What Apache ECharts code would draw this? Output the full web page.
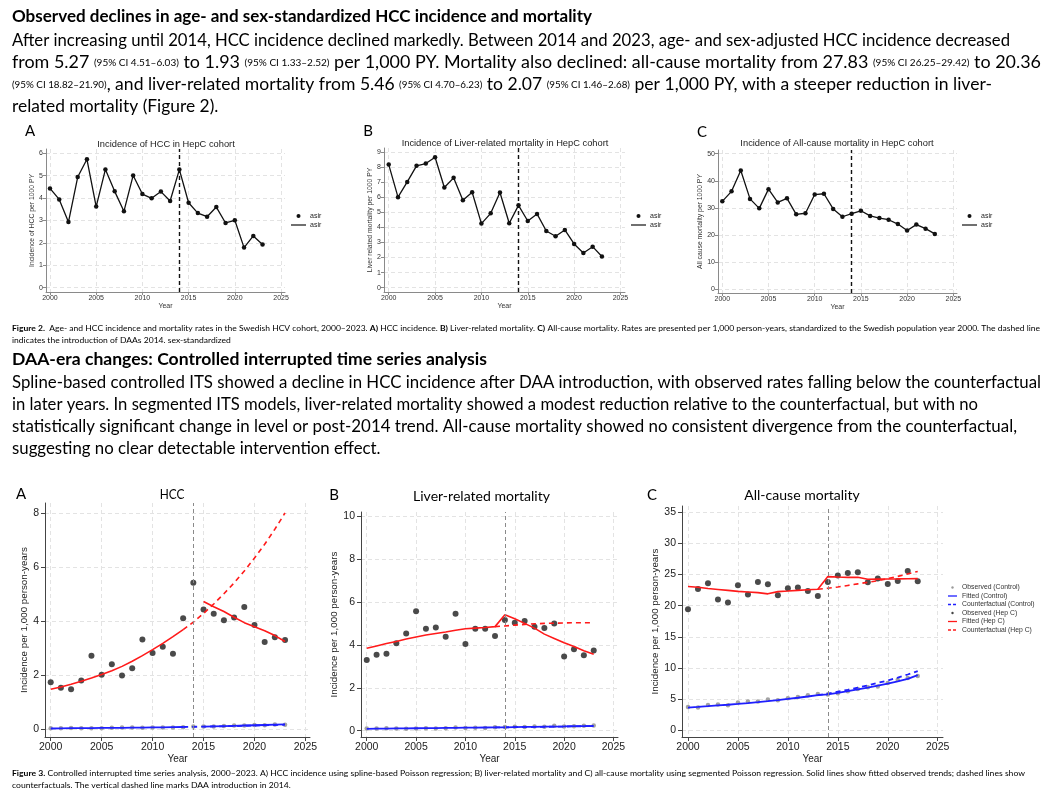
<!DOCTYPE html>
<html><head><meta charset="utf-8">
<script src="https://cdn.jsdelivr.net/npm/echarts@6/dist/echarts.min.js"></script>
<style>html,body{margin:0;padding:0;background:#fff;}#c{width:1048px;height:808px;}</style>
</head><body><div id="c"></div>
<script>
// ---------- data ----------
const years = [2000,2001,2002,2003,2004,2005,2006,2007,2008,2009,2010,2011,2012,2013,2014,2015,2016,2017,2018,2019,2020,2021,2022,2023];
const xTickYears = [2000,2005,2010,2015,2020,2025];
const interventionYear = 2014;

// Figure 2 (age- and sex-standardized rates, per 1000 PY)
const hccAsir      = [4.43,3.94,2.93,4.94,5.73,3.62,5.28,4.30,3.41,5.01,4.18,3.99,4.29,3.87,5.27,3.79,3.33,3.17,3.60,2.89,3.01,1.79,2.31,1.93];
const liverAsir    = [8.16,6.00,7.01,8.08,8.23,8.65,6.64,7.28,5.80,6.33,4.25,4.93,6.31,4.27,5.46,4.42,4.89,3.76,3.41,3.83,2.90,2.30,2.72,2.07];
const allCauseAsir = [32.4,36.1,43.8,33.3,29.8,36.9,32.0,33.5,27.6,28.0,34.9,35.2,29.6,26.7,27.83,28.9,27.0,26.2,25.6,24.0,21.6,23.8,22.3,20.36];
const yTicksTopA = [0,1,2,3,4,5,6];
const yTicksTopB = [0,1,2,3,4,5,6,7,8,9];
const yTicksTopC = [0,10,20,30,40,50];

// Figure 3 A: HCC
const hccObsHepC  = [1.74,1.54,1.48,1.81,2.72,2.02,2.41,1.99,2.26,3.33,2.83,3.06,2.80,4.11,5.43,4.44,4.28,4.04,4.14,4.53,3.86,3.23,3.41,3.31];
const hccFitHepC  = [1.48,1.57,1.67,1.78,1.90,2.03,2.17,2.33,2.52,2.73,2.95,3.18,3.43,3.69,null,4.73,4.54,4.36,4.15,3.95,3.80,3.65,3.47,3.25];
const hccCfHepC   = [null,null,null,null,null,null,null,null,null,null,null,null,null,3.69,3.97,4.29,4.64,5.02,5.42,5.86,6.34,6.85,7.41,8.01];
const hccObsCtrl  = [0.04,0.04,0.05,0.04,0.04,0.04,0.06,0.07,0.07,0.06,0.07,0.07,0.07,0.08,0.10,0.10,0.10,0.12,0.14,0.14,0.16,0.15,0.18,0.17];
const hccFitCtrl  = [0.03,0.035,0.04,0.04,0.045,0.05,0.05,0.055,0.06,0.065,0.07,0.075,0.08,0.085,null,0.10,0.11,0.12,0.13,0.14,0.15,0.16,0.17,0.18];
const hccCfCtrl   = [null,null,null,null,null,null,null,null,null,null,null,null,null,0.085,0.09,0.10,0.105,0.11,0.12,0.13,0.14,0.15,0.16,0.17];
const yTicksBotA = [0,2,4,6,8];

// Figure 3 B: liver-related mortality
const livObsHepC  = [3.29,3.54,3.59,4.08,4.53,5.57,4.75,4.81,4.38,5.45,4.04,4.75,4.75,4.41,5.16,5.03,5.11,4.84,4.78,5.00,3.46,3.79,3.52,3.74];
const livFitHepC  = [3.84,3.95,4.06,4.16,4.27,4.37,4.46,4.53,4.60,4.68,4.75,4.78,4.81,4.85,5.40,5.22,5.00,4.78,4.50,4.30,4.10,3.92,3.73,3.56];
const livCfHepC   = [null,null,null,null,null,null,null,null,null,null,null,null,null,4.85,4.88,4.92,4.95,4.98,5.00,5.01,5.02,5.03,5.03,5.03];
const livObsCtrl  = [0.10,0.10,0.11,0.10,0.09,0.10,0.12,0.10,0.12,0.15,0.13,0.14,0.13,0.16,0.17,0.19,0.17,0.20,0.18,0.23,0.20,0.21,0.23,0.24];
const livFitCtrl  = [0.09,0.095,0.10,0.105,0.11,0.115,0.12,0.125,0.13,0.135,0.14,0.145,0.15,0.155,0.16,0.17,0.175,0.18,0.19,0.195,0.20,0.21,0.215,0.22];
const livCfCtrl   = [null,null,null,null,null,null,null,null,null,null,null,null,null,0.155,0.16,0.165,0.17,0.175,0.18,0.19,0.195,0.20,0.21,0.215];
const yTicksBotB = [0,2,4,6,8,10];

// Figure 3 C: all-cause mortality
const acObsHepC   = [19.43,22.69,23.60,20.98,20.50,23.28,21.78,23.81,23.44,21.67,22.80,22.90,22.37,21.57,23.81,24.83,25.26,25.37,23.76,24.35,23.49,23.98,25.58,23.92];
const acFitHepC   = [23.07,22.95,22.75,22.60,22.45,22.30,22.20,22.10,21.90,22.26,22.35,22.45,22.55,22.64,24.67,24.60,24.55,24.56,24.24,24.26,24.28,24.30,24.33,24.35];
const acCfHepC    = [null,null,null,null,null,null,null,null,null,null,null,null,null,22.64,22.80,23.00,23.25,23.50,23.75,24.00,24.35,24.70,25.10,25.50];
const acObsCtrl   = [3.75,3.64,4.07,4.12,4.01,4.44,4.60,4.60,4.92,4.82,5.14,5.35,5.62,5.83,5.73,5.94,6.26,6.64,6.90,7.01,7.60,8.10,8.40,8.72];
const acFitCtrl   = [3.65,3.75,3.86,3.98,4.10,4.23,4.37,4.52,4.68,4.85,5.03,5.22,5.42,5.63,5.75,6.00,6.27,6.55,6.85,7.17,7.50,7.85,8.25,8.85];
const acCfCtrl    = [null,null,null,null,null,null,null,null,null,null,null,null,null,5.63,5.90,6.20,6.50,6.85,7.20,7.60,8.00,8.45,8.95,9.50];
const yTicksBotC = [0,5,10,15,20,25,30,35];

// ---------- text ----------
const para1Title = "Observed declines in age- and sex-standardized HCC incidence and mortality";
const para1Lines = [
  "After increasing until 2014, HCC incidence declined markedly. Between 2014 and 2023, age- and sex-adjusted HCC incidence decreased",
  "from 5.27 {ci|(95% CI 4.51–6.03)} to 1.93 {ci|(95% CI 1.33–2.52)} per 1,000 PY. Mortality also declined: all-cause mortality from 27.83 {ci|(95% CI 26.25–29.42)} to 20.36",
  "{ci|(95% CI 18.82–21.90)}, and liver-related mortality from 5.46 {ci|(95% CI 4.70–6.23)} to 2.07 {ci|(95% CI 1.46–2.68)} per 1,000 PY, with a steeper reduction in liver-",
  "related mortality (Figure 2)."
];
const para2Title = "DAA-era changes: Controlled interrupted time series analysis";
const para2Lines = [
  "Spline-based controlled ITS showed a decline in HCC incidence after DAA introduction, with observed rates falling below the counterfactual",
  "in later years. In segmented ITS models, liver-related mortality showed a modest reduction relative to the counterfactual, but with no",
  "statistically significant change in level or post-2014 trend. All-cause mortality showed no consistent divergence from the counterfactual,",
  "suggesting no clear detectable intervention effect."
];
const fig2Caption = [
  "{b|Figure 2.}  Age- and HCC incidence and mortality rates in the Swedish HCV cohort, 2000–2023. {b|A)} HCC incidence. {b|B)} Liver-related mortality. {b|C)} All-cause mortality. Rates are presented per 1,000 person-years, standardized to the Swedish population year 2000. The dashed line",
  "indicates the introduction of DAAs 2014. sex-standardized"
];
const fig3Caption = [
  "{b|Figure 3.} Controlled interrupted time series analysis, 2000–2023. A) HCC incidence using spline-based Poisson regression; B) liver-related mortality and C) all-cause mortality using segmented Poisson regression. Solid lines show fitted observed trends; dashed lines show",
  "counterfactuals. The vertical dashed line marks DAA introduction in 2014."
];

// ---------- helpers ----------
const FF = "'Liberation Sans', Arial, sans-serif";
const LF = "Lato, 'Open Sans', sans-serif";
const cv = document.createElement('canvas').getContext('2d');
function segs(str){
  const out=[]; const re=/\{(\w+)\|([^}]*)\}/g; let last=0,m;
  while((m=re.exec(str))){ if(m.index>last) out.push([null,str.slice(last,m.index)]); out.push([m[1],m[2]]); last=re.lastIndex; }
  if(last<str.length) out.push([null,str.slice(last)]);
  return out;
}
function measure(str, base, rich){
  let w=0;
  for(const [k,t] of segs(str)){
    const s = k ? rich[k] : base;
    cv.font = (s.fontWeight||'normal')+' '+s.fontSize+'px '+s.fontFamily;
    w += cv.measureText(t).width;
  }
  return w;
}
const graphics = [];
function addText(str, x, y, base, rich, scale, align, color){
  graphics.push({
    type:'text', x:x, y:y, scaleX:scale||1, silent:true, z:100,
    style: Object.assign({
      text:str, fill:color||'#000', align:align||'left', verticalAlign:'middle',
      textAlign:align||'left', textVerticalAlign:'middle', rich:rich||{}
    }, base)
  });
}
function paragraph(title, lines, x, yTitle, yLines, titleEnd, lineEnds){
  const tb = {fontFamily:LF, fontSize:17, fontWeight:'bold'};
  addText(title, x, yTitle, tb, {}, (titleEnd-x)/measure(title,tb,{}));
  const base = {fontFamily:LF, fontSize:17, fontWeight:'normal'};
  const rich = {ci:{fontFamily:LF, fontSize:9.5, fontWeight:'normal', fill:'#000'}};
  const scales = lineEnds.map((e,i)=>(e-x)/measure(lines[i],base,rich));
  const avg = scales.reduce((a,b)=>a+b,0)/scales.length;
  lines.forEach((l,i)=>addText(l, x, yLines[i], base, rich, i<scales.length?scales[i]:avg));
}
function caption(lines, x, ys, end){
  const base = {fontFamily:LF, fontSize:8, fontWeight:'normal'};
  const rich = {b:{fontFamily:LF, fontSize:8, fontWeight:'bold', fill:'#000'}};
  const s = (end-x)/measure(lines[0],base,rich);
  lines.forEach((l,i)=>addText(l, x, ys[i], base, rich, s));
}
function fitCenter(str, cx, cy, width, size){
  const b = {fontFamily:LF, fontSize:size, fontWeight:'normal'};
  addText(str, cx, cy, b, {}, width/measure(str,b,{}), 'center');
}

paragraph(para1Title, para1Lines, 12, 17, [41,63,85,106.5], 592, [1010,1041,992]);
paragraph(para2Title, para2Lines, 12, 360, [383,405,427,449], 487, [1041,978,1017]);
caption(fig2Caption, 12, [328,340], 1040);
caption(fig3Caption, 12, [773,785], 1025);

// panel letters
const letter = {fontFamily:LF, fontSize:15, fontWeight:'normal'};
[['A',30,131],['B',368,131],['C',702,132],['A',21,494],['B',334,495],['C',652,495]].forEach(a=>addText(a[0],a[1],a[2],letter,{},1,'center'));
// top panel titles
const tTitle = {fontFamily:FF, fontSize:9.3, fontWeight:'normal'};
addText('Incidence of HCC in HepC cohort', 166, 144, tTitle, {}, 1, 'center', '#222');
addText('Incidence of Liver-related mortality in HepC cohort', 505, 143, tTitle, {}, 1, 'center', '#222');
addText('Incidence of All-cause mortality in HepC cohort', 837, 143.5, tTitle, {}, 1, 'center', '#222');
// bottom panel titles
fitCenter('HCC', 172, 494, 24.7, 14);
fitCenter('Liver-related mortality', 481.5, 496, 137, 14);
fitCenter('All-cause mortality', 802, 495, 115.5, 14);

// top legends (asir)
const legT = {fontFamily:FF, fontSize:7, fontWeight:'normal'};
[291, 631, 962].forEach(L=>{
  graphics.push({type:'circle', silent:true, shape:{cx:L+7.5, cy:216, r:2}, style:{fill:'#111'}});
  graphics.push({type:'line', silent:true, shape:{x1:L, y1:225, x2:L+15, y2:225}, style:{stroke:'#111', lineWidth:1.2}});
  addText('asir', L+19, 216, legT, {}, 1, 'left', '#222');
  addText('asir', L+19, 225.5, legT, {}, 1, 'left', '#222');
});
// bottom C legend
const legB = {fontFamily:FF, fontSize:6.8, fontWeight:'normal'};
const legItems = [
  ['Observed (Control)','dot','#9a9a9a',null],
  ['Fitted (Control)','line','#1f1fff',null],
  ['Counterfactual (Control)','line','#1f1fff',[3,2]],
  ['Observed (Hep C)','dot','#444',null],
  ['Fitted (Hep C)','line','#ff1a1a',null],
  ['Counterfactual (Hep C)','line','#ff1a1a',[3,2]]
];
legItems.forEach((it,i)=>{
  const y = 587.5 + i*8.5;
  if(it[1]==='dot') graphics.push({type:'circle', silent:true, shape:{cx:952.5, cy:y, r:1.2}, style:{fill:it[2]}});
  else graphics.push({type:'line', silent:true, shape:{x1:948, y1:y, x2:957, y2:y}, style:{stroke:it[2], lineWidth:1.3, lineDash:it[3]||null}});
  addText(it[0], 962, y, legB, {}, 1, 'left', '#333');
});

// ---------- axes ----------
const GRIDC = '#e3e3e3';
function xAx(gi, min, max, o){
  return {type:'value', gridIndex:gi, min:min, max:max,
    name:'Year', nameLocation:'middle', nameGap:o.nameGap,
    nameTextStyle:{fontSize:o.nameSize, color:o.color, fontFamily:FF},
    axisLine:{show:true, onZero:false, lineStyle:{color:o.axisColor, width:1}},
    axisTick:{show:true, length:o.tick, customValues:xTickYears, lineStyle:{color:o.axisColor}},
    axisLabel:{customValues:xTickYears, fontSize:o.labelSize, color:o.color, margin:o.margin, fontFamily:FF, formatter:v=>String(v)},
    splitLine:{show:true, lineStyle:{type:[4,3], color:GRIDC, width:1}}
  };
}
function yAx(gi, min, max, ticks, name, o){
  return {type:'value', gridIndex:gi, min:min, max:max,
    name:name, nameLocation:'middle', nameGap:o.nameGap,
    nameTextStyle:{fontSize:o.nameSize, color:o.color, fontFamily:FF},
    axisLine:{show:true, onZero:false, lineStyle:{color:o.axisColor, width:1}},
    axisTick:{show:true, length:o.tick, customValues:ticks, lineStyle:{color:o.axisColor}},
    axisLabel:{customValues:ticks, fontSize:o.labelSize, color:o.color, margin:o.margin, fontFamily:FF, formatter:v=>String(v)},
    splitLine:{show:true, lineStyle:{type:[4,3], color:GRIDC, width:1}}
  };
}
const topX = {nameGap:11, nameSize:7, color:'#333', axisColor:'#8a8a8a', tick:3, labelSize:7, margin:3};
const botX = {nameGap:16, nameSize:10, color:'#222', axisColor:'#444', tick:4, labelSize:10.5, margin:5};
function topY(gap){ return {nameGap:gap, nameSize:6.8, color:'#333', axisColor:'#8a8a8a', tick:3, labelSize:7, margin:3}; }
function botY(gap){ return {nameGap:gap, nameSize:9.8, color:'#222', axisColor:'#444', tick:4, labelSize:10.5, margin:6}; }

const grids = [
  {left:46, top:149, width:239, height:143},
  {left:384, top:148, width:241, height:144},
  {left:718, top:150, width:239, height:143},
  {left:45, top:503, width:265, height:234},
  {left:361, top:512, width:257, height:225},
  {left:682, top:506, width:261, height:231}
];
const xAxes = [
  xAx(0, 1999.57, 2025.43, topX),
  xAx(1, 1999.49, 2025.49, topX),
  xAx(2, 1999.535, 2025.4, topX),
  xAx(3, 1999.44, 2025.45, botX),
  xAx(4, 1999.42, 2025.46, botX),
  xAx(5, 1999.40, 2025.53, botX)
];
const yAxes = [
  yAx(0, -0.19, 6.19, yTicksTopA, 'Incidence of HCC per 1000 PY', topY(10)),
  yAx(1, -0.285, 9.26, yTicksTopB, 'Liver related mortality per 1000 PY', topY(9)),
  yAx(2, -1.48, 51.37, yTicksTopC, 'All cause mortality per 1000 PY', topY(14)),
  yAx(3, -0.285, 8.38, yTicksBotA, 'Incidence per 1,000 person-years', botY(11)),
  yAx(4, -0.293, 10.19, yTicksBotB, 'Incidence per 1,000 person-years', botY(21)),
  yAx(5, -1.08, 36.0, yTicksBotC, 'Incidence per 1,000 person-years', botY(21))
];

// ---------- series ----------
function pairs(arr){ return years.map((y,i)=>[y, arr[i]==null ? '-' : arr[i]]); }
function vline(color, width){
  return {symbol:'none', silent:true, label:{show:false}, animation:false,
    lineStyle:{type:[4,3], color:color, width:width}, data:[{xAxis:interventionYear}]};
}
const series = [];
[[hccAsir,0],[liverAsir,1],[allCauseAsir,2]].forEach(([arr,gi])=>{
  series.push({type:'line', name:'asir', xAxisIndex:gi, yAxisIndex:gi, data:pairs(arr),
    symbol:'circle', symbolSize:4.5, itemStyle:{color:'#111'}, lineStyle:{color:'#111', width:1.3},
    markLine:vline('#111', 1.4)});
});
function itsPanel(gi, obsH, fitH, cfH, obsC, fitC, cfC){
  series.push({type:'line', name:'Counterfactual (Control)', xAxisIndex:gi, yAxisIndex:gi, data:pairs(cfC),
    symbol:'none', lineStyle:{color:'#1f1fff', width:1.8, type:[5,4]}, markLine:vline('#8a8a8a', 1)});
  series.push({type:'line', name:'Fitted (Control)', xAxisIndex:gi, yAxisIndex:gi, data:pairs(fitC),
    symbol:'none', connectNulls:false, lineStyle:{color:'#1f1fff', width:1.8}});
  series.push({type:'line', name:'Counterfactual (Hep C)', xAxisIndex:gi, yAxisIndex:gi, data:pairs(cfH),
    symbol:'none', lineStyle:{color:'#ff1a1a', width:1.6, type:[5,4]}});
  series.push({type:'line', name:'Fitted (Hep C)', xAxisIndex:gi, yAxisIndex:gi, data:pairs(fitH),
    symbol:'none', connectNulls:false, lineStyle:{color:'#ff1a1a', width:1.6}});
  series.push({type:'scatter', name:'Observed (Control)', xAxisIndex:gi, yAxisIndex:gi, data:pairs(obsC),
    symbolSize:4.5, itemStyle:{color:'#a3a3a3', opacity:1}});
  series.push({type:'scatter', name:'Observed (Hep C)', xAxisIndex:gi, yAxisIndex:gi, data:pairs(obsH),
    symbolSize:6, itemStyle:{color:'#4a4a4a', opacity:1}});
}
itsPanel(3, hccObsHepC, hccFitHepC, hccCfHepC, hccObsCtrl, hccFitCtrl, hccCfCtrl);
itsPanel(4, livObsHepC, livFitHepC, livCfHepC, livObsCtrl, livFitCtrl, livCfCtrl);
itsPanel(5, acObsHepC, acFitHepC, acCfHepC, acObsCtrl, acFitCtrl, acCfCtrl);

const chart = echarts.init(document.getElementById('c'), null, {renderer:'canvas'});
chart.setOption({
  animation:false,
  backgroundColor:'#fff',
  grid:grids, xAxis:xAxes, yAxis:yAxes, series:series,
  graphic:{elements:graphics}
});
</script></body></html>
